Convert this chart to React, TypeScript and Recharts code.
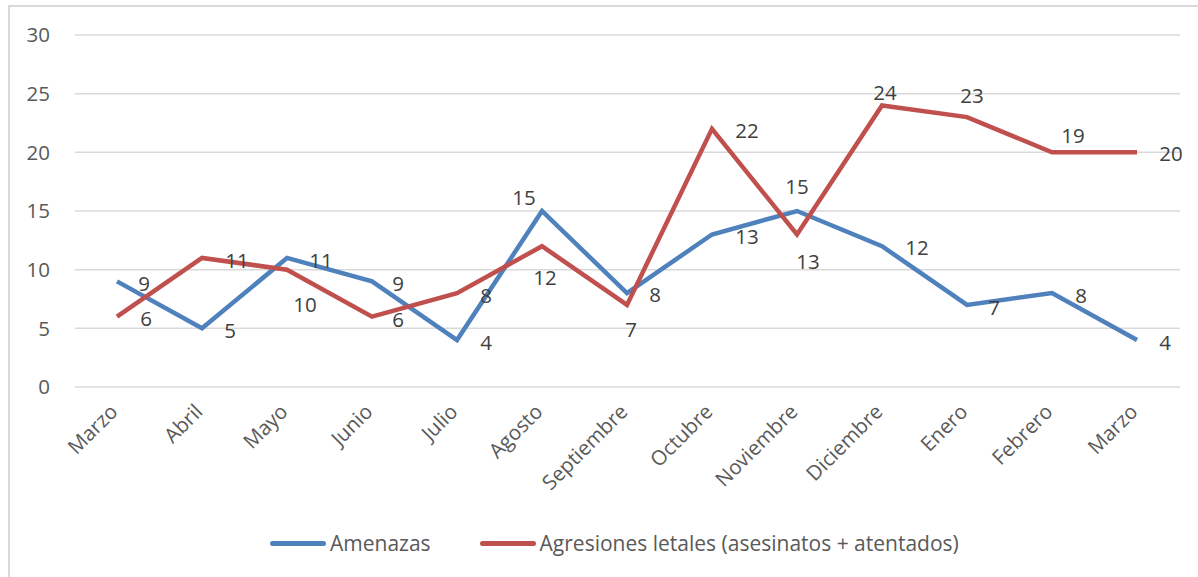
import { CartesianGrid, Line, LineChart, XAxis, YAxis } from "recharts";

const MESES = [
  "Marzo",
  "Abril",
  "Mayo",
  "Junio",
  "Julio",
  "Agosto",
  "Septiembre",
  "Octubre",
  "Noviembre",
  "Diciembre",
  "Enero",
  "Febrero",
  "Marzo",
];
const AMENAZAS = [9, 5, 11, 9, 4, 15, 8, 13, 15, 12, 7, 8, 4];
const AGRESIONES = [6, 11, 10, 6, 8, 12, 7, 22, 13, 24, 23, 20, 20];
// etiquetas tal como aparecen en el gráfico original (Febrero dice 19)
const ETIQUETAS_AGRESIONES = [6, 11, 10, 6, 8, 12, 7, 22, 13, 24, 23, 19, 20];
const Y_TICKS = [0, 5, 10, 15, 20, 25, 30];

// desplazamiento de cada etiqueta respecto a su punto [dx, dy]
const POS_AMENAZAS: [number, number][] = [
  [27, 2], [28, 2], [34, 2], [26, 2], [29, 2], [-18, -14], [28, 1],
  [35, 2], [0, -25], [35, 1], [27, 2], [29, 2], [28, 2],
];
const POS_AGRESIONES: [number, number][] = [
  [29, 1], [35, 2], [18, 34], [26, 2], [29, 2], [3, 31], [4, 24],
  [35, 1], [11, 27], [3, -13], [5, -22], [21, -17], [34, 1],
];

const AZUL = "#4f81bd";
const ROJO = "#c0504d";
const FONT = "'Open Sans', sans-serif";

const data = MESES.map((mes, i) => ({
  mes: `${mes}-${i}`,
  amenazas: AMENAZAS[i],
  agresiones: AGRESIONES[i],
}));

function labelRenderer(pos: [number, number][], textos?: number[]) {
  return (props: any) => {
    const { x, y, index, value } = props;
    const [dx, dy] = pos[index] ?? [28, 0];
    return (
      <text
        key={`l-${index}`}
        x={x + dx}
        y={y + dy}
        textAnchor="middle"
        dominantBaseline="central"
        fill="#404040"
        fontSize={20.5}
        fontFamily={FONT}
      >
        {textos ? textos[index] : value}
      </text>
    );
  };
}

function MesTick(props: any) {
  const { x, y, payload } = props;
  const nombre = String(payload.value).split("-")[0];
  return (
    <text
      x={x + 2}
      y={y + 18}
      transform={`rotate(-45, ${x + 2}, ${y + 18})`}
      textAnchor="end"
      fill="#595959"
      fontSize={20.5}
      fontFamily={FONT}
    >
      {nombre}
    </text>
  );
}

function LegendItem({ color, text }: { color: string; text: string }) {
  return (
    <div style={{ display: "flex", alignItems: "center" }}>
      <div
        style={{
          width: 56,
          height: 5,
          borderRadius: 3,
          background: color,
          marginRight: 4,
        }}
      />
      <span>{text}</span>
    </div>
  );
}

export default function App() {
  return (
    <div
      style={{
        position: "absolute",
        left: 0,
        top: 0,
        width: 1198,
        height: 577,
        overflow: "hidden",
        background: "#fff",
      }}
    >
      <div
        style={{
          position: "absolute",
          left: 8,
          top: 5,
          width: 1300,
          height: 700,
          borderTop: "2px solid #d9d9d9",
          borderLeft: "2px solid #d9d9d9",
        }}
      />
      <div style={{ position: "absolute", left: 0, top: 0 }}>
        <LineChart
          width={1198}
          height={577}
          data={data}
          margin={{ top: 35, right: 18, bottom: 0, left: 0 }}
        >
          <CartesianGrid vertical={false} stroke="#d9d9d9" strokeWidth={1.5} />
          <XAxis
            dataKey="mes"
            interval={0}
            height={190}
            axisLine={false}
            tickLine={false}
            padding={{ left: 42, right: 43 }}
            tick={<MesTick />}
          />
          <YAxis
            width={75}
            domain={[0, 30]}
            ticks={Y_TICKS}
            axisLine={false}
            tickLine={false}
            tickSize={0}
            tickMargin={25}
            tick={{ fill: "#595959", fontSize: 20.5, fontFamily: FONT }}
          />
          <Line
            dataKey="amenazas"
            stroke={AZUL}
            strokeWidth={4.5}
            dot={false}
            activeDot={false}
            isAnimationActive={false}
            label={labelRenderer(POS_AMENAZAS)}
          />
          <Line
            dataKey="agresiones"
            stroke={ROJO}
            strokeWidth={4.5}
            dot={false}
            activeDot={false}
            isAnimationActive={false}
            label={labelRenderer(POS_AGRESIONES, ETIQUETAS_AGRESIONES)}
          />
        </LineChart>
      </div>
      <div
        style={{
          position: "absolute",
          left: 270,
          top: 529,
          display: "flex",
          gap: 49,
          fontFamily: FONT,
          fontSize: 21,
          color: "#595959",
        }}
      >
        <LegendItem color={AZUL} text="Amenazas" />
        <LegendItem color={ROJO} text="Agresiones letales (asesinatos + atentados)" />
      </div>
    </div>
  );
}
